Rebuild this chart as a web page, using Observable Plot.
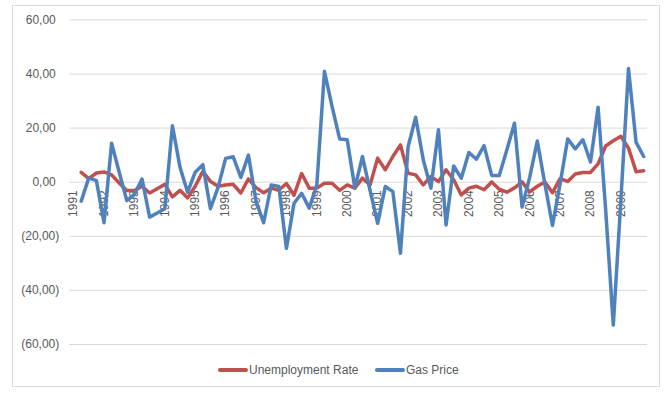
<!DOCTYPE html>
<html>
<head>
<meta charset="utf-8">
<script src="https://cdn.jsdelivr.net/npm/d3@7"></script>
<script src="https://cdn.jsdelivr.net/npm/@observablehq/plot@0.6"></script>
<style>
  body { margin: 0; background: #fff; }
  #wrap { position: relative; width: 670px; height: 395px; font-family: "Liberation Sans", Arial, sans-serif; }
  #frame { position: absolute; left: 12px; top: 5px; width: 648px; height: 382px; border: 1px solid #d9d9d9; box-sizing: border-box; }
  #chart { position: absolute; left: 0; top: 0; }
  #legend { position: absolute; left: 0; top: 362px; width: 670px; height: 16px; font-size: 12px; color: #595959; }
  .item { position: absolute; top: 0; display: flex; align-items: center; height: 16px; white-space: nowrap; }
  .sw { display: inline-block; width: 30px; height: 4px; border-radius: 2px; margin-right: 1px; }
</style>
</head>
<body>
<div id="wrap">
  <div id="frame"></div>
  <div id="chart"></div>
  <div id="legend"></div>
</div>
<script>
// Year tick labels (one every 4 quarters, first quarter of each year)
const yearLabels = ["1991","1992","1993","1994","1995","1996","1997","1998","1999","2000",
                    "2001","2002","2003","2004","2005","2006","2007","2008","2009"];

// Y-axis tick values
const yTicks = [60, 40, 20, 0, -20, -40, -60];

// Series names and colours
const seriesNames = ["Unemployment Rate", "Gas Price"];
const seriesColors = ["#C0504D", "#4F81BD"];

// Quarterly % change, 1991 Q1 .. 2009 Q4 (first quarter has no value)
const unemployment = [null,
  3.6, 1.3, 3.4, 3.8, 2.7, -0.3, -3.1, -3.1, -1.5, -4.0,
  -2.4, -0.8, -5.4, -3.0, -5.8, -1.5, 4.0, 0.3, -1.5, -1.0,
  -0.8, -4.0, 1.2, -2.0, -3.9, -2.2, -3.0, -0.5, -4.8, 3.2,
  -2.2, -2.2, -0.4, -0.4, -3.0, -1.0, -2.2, 1.5, -1.0, 8.9,
  4.6, 9.5, 13.8, 3.3, 2.7, -1.0, 2.1, 0.2, 4.6, 0.9,
  -4.7, -2.2, -1.5, -2.8, 0.1, -2.6, -3.7, -2.1, 0.1, -3.6,
  -1.5, 0.1, -3.9, 1.3, 0.3, 3.0, 3.6, 3.6, 6.8, 13.4,
  15.3, 17.0, 12.6, 3.9, 4.2];

const gasPrice = [null,
  -7.0, 1.6, 0.6, -15.0, 14.4, 3.7, -6.8, -4.5, 1.2, -12.9,
  -11.4, -9.8, 20.9, 5.5, -3.7, 3.7, 6.5, -9.8, -2.0, 8.8,
  9.4, 1.8, 10.0, -7.0, -15.0, -1.0, -1.6, -24.4, -7.8, -4.1,
  -9.6, -1.0, 41.0, 28.0, 16.0, 15.7, -2.2, 9.5, -3.0, -15.2,
  -1.6, -3.5, -26.3, 13.0, 24.0, 8.3, -2.2, 19.4, -15.8, 6.0,
  1.5, 11.0, 8.5, 13.5, 2.5, 2.5, 12.0, 21.8, -9.2, 1.8,
  15.2, -0.6, -16.0, -0.6, 16.0, 12.3, 15.7, 7.5, 27.7, -10.3,
  -52.8, -6.5, 42.0, 14.7, 9.5];

const nQuarters = unemployment.length;

const fmt = v => {
  const s = Math.abs(v).toFixed(2).replace(".", ",");
  return v < 0 ? `(${s})` : s;
};

const yearData = yearLabels.map((label, i) => ({label, q: i * 4}));

const chart = Plot.plot({
  width: 670,
  height: 355,
  marginLeft: 69.3,
  marginRight: 23,
  marginTop: 19.4,
  marginBottom: 11,
  style: {fontFamily: '"Liberation Sans", Arial, sans-serif', fontSize: "12px", color: "#595959", background: "transparent"},
  x: {domain: [-0.5, nQuarters - 0.5], axis: null},
  y: {domain: [-60, 60], axis: null},
  marks: [
    Plot.ruleY(yTicks, {stroke: "#d9d9d9", strokeWidth: 1}),
    Plot.axisY(yTicks.filter(v => v >= 0), {tickSize: 0, tickPadding: 14, tickFormat: fmt, fill: "#595959", label: null}),
    Plot.axisY(yTicks.filter(v => v < 0), {tickSize: 0, tickPadding: 10.5, tickFormat: fmt, fill: "#595959", label: null}),
    Plot.text(yearData, {x: "q", y: () => 0, text: "label", rotate: -90, textAnchor: "end", dy: 8, fill: "#595959", fontSize: 12}),
    Plot.line(unemployment, {x: (d, i) => i, y: d => d, stroke: seriesColors[0], strokeWidth: 3.5, strokeLinejoin: "round", strokeLinecap: "round"}),
    Plot.line(gasPrice, {x: (d, i) => i, y: d => d, stroke: seriesColors[1], strokeWidth: 3.5, strokeLinejoin: "round", strokeLinecap: "round"})
  ]
});
document.getElementById("chart").appendChild(chart);

// Legend below the chart
const legend = document.getElementById("legend");
const legendX = [218, 375];
seriesNames.forEach((name, i) => {
  const item = document.createElement("div");
  item.className = "item";
  item.style.left = legendX[i] + "px";
  const sw = document.createElement("span");
  sw.className = "sw";
  sw.style.background = seriesColors[i];
  const tx = document.createElement("span");
  tx.textContent = name;
  item.appendChild(sw);
  item.appendChild(tx);
  legend.appendChild(item);
});
</script>
</body>
</html>
